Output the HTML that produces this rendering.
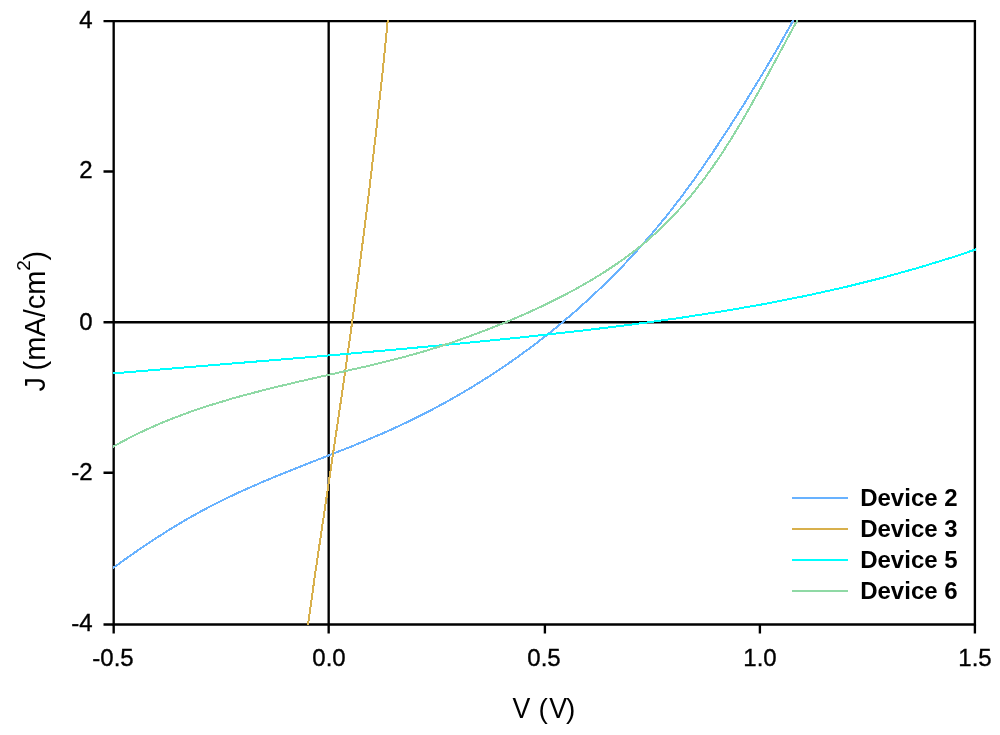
<!DOCTYPE html>
<html><head><meta charset="utf-8"><style>
html,body{margin:0;padding:0;background:#fff;width:1000px;height:735px;overflow:hidden}
svg{display:block;will-change:transform}
text{font-family:"Liberation Sans",sans-serif;fill:#000;stroke:#000;stroke-width:0}
.t{font-size:24px}
.t text{stroke-width:0.35px}
.ax{font-size:29px}
.lg{font-size:24px;font-weight:bold}
</style></head><body>
<svg width="1000" height="735" viewBox="0 0 1000 735">
<defs><clipPath id="c"><rect x="113" y="20" width="863" height="605"/></clipPath></defs>
<rect width="1000" height="735" fill="#fff"/>
<g stroke="#000" stroke-width="2.35" fill="none">
<path d="M113.68 21.05H974.9V624.5H113.68Z"/>
<path d="M328.67 21.05V633.5M113.68 322.2H974.9"/>
<path d="M103.5 21.05H113.68M103.5 171.5H113.68M103.5 322.2H113.68M103.5 472.7H113.68M103.5 624.5H113.68"/>
<path d="M113.68 624.5V633.5M544.9 624.5V633.5M759.9 624.5V633.5M974.9 624.5V633.5"/>
</g>
<g fill="none" stroke-width="2" clip-path="url(#c)" stroke-linejoin="round" shape-rendering="crispEdges">
<polyline points="92.74,583.27 109.16,570.87 124.53,559.68 140.13,548.78 154.63,539.10 169.34,529.74 184.27,520.75 199.41,512.16 213.38,504.74 237.54,492.97 265.05,480.85 291.43,470.07 353.25,445.77 383.84,432.90 399.67,425.70 415.35,418.16 430.87,410.27 446.20,402.03 461.33,393.44 474.92,385.32 488.32,376.90 502.85,367.31 515.86,358.28 529.94,348.04 543.78,337.46 557.37,326.56 574.29,312.24 590.78,297.41 606.82,282.10 622.40,266.33 637.51,250.10 652.13,233.44 666.25,216.35 680.82,197.59 695.77,177.14 711.09,154.99 727.67,129.84 745.48,101.72 762.84,73.35 778.08,47.43 792.02,22.61 805.42,-2.50" stroke="#68b2ff"/>
<polyline points="389.42,3.28 383.08,67.47 375.99,132.69 368.04,199.99 359.22,269.36 351.47,326.92 343.06,386.54 315.82,569.22 305.59,641.38" stroke="#d8b04c"/>
<polyline points="100.05,374.48 317.91,356.42 398.55,349.29 467.21,342.83 528.90,336.56 583.64,330.47 633.54,324.31 679.47,317.98 724.56,310.98 766.64,303.60 806.63,295.68 844.99,287.14 882.23,277.84 918.85,267.64 954.35,256.70 989.80,244.68" stroke="#00ffff"/>
<polyline points="91.61,459.83 104.54,451.67 117.67,444.09 130.99,437.03 144.48,430.47 158.14,424.37 173.33,418.15 188.69,412.41 205.62,406.62 234.15,397.94 267.35,389.13 299.36,381.49 369.37,365.67 402.66,357.38 419.87,352.58 436.97,347.37 453.94,341.78 472.20,335.30 491.71,327.88 511.07,320.01 528.88,312.28 545.14,304.73 561.20,296.76 577.02,288.32 591.28,280.14 605.28,271.51 620.17,261.52 633.41,251.81 646.17,241.52 657.31,231.63 669.04,220.20 680.22,208.24 691.81,194.66 702.83,180.58 712.46,167.30 722.52,152.45 732.96,136.02 743.00,119.30 759.26,90.58 793.91,26.43 808.85,-0.32" stroke="#8fd9a5"/>
</g>
<g class="t" text-anchor="end">
<text x="92.5" y="28">4</text>
<text x="92.5" y="178.4">2</text>
<text x="92.5" y="330">0</text>
<text x="92.5" y="480">-2</text>
<text x="92.5" y="631">-4</text>
</g>
<g class="t" text-anchor="middle">
<text x="113" y="666">-0.5</text>
<text x="329" y="666">0.0</text>
<text x="544" y="666">0.5</text>
<text x="760" y="666">1.0</text>
<text x="975" y="666">1.5</text>
</g>
<g class="ax"><text x="512.5" y="717.5" font-size="30" textLength="17.8" lengthAdjust="spacingAndGlyphs">V</text><text x="538.6" y="717.5" font-size="28">(</text><text x="549.3" y="717.5" font-size="30" textLength="17.8" lengthAdjust="spacingAndGlyphs">V</text><text x="566" y="717.5" font-size="28">)</text></g>
<g transform="translate(44.5,391.5) rotate(-90)" class="ax">
<text x="0" y="0">J</text>
<text x="21" y="0">(mA/cm<tspan dy="-15" font-size="19">2</tspan><tspan dx="-0.5" dy="15">)</tspan></text>
</g>
<g stroke-width="2" shape-rendering="crispEdges">
<line x1="792" y1="498" x2="848" y2="498" stroke="#68b2ff"/>
<line x1="792" y1="529" x2="848" y2="529" stroke="#d8b04c"/>
<line x1="792" y1="560" x2="848" y2="560" stroke="#00ffff"/>
<line x1="792" y1="591" x2="848" y2="591" stroke="#8fd9a5"/>
</g>
<g class="lg">
<text x="860.2" y="506">Device 2</text>
<text x="860.2" y="537">Device 3</text>
<text x="860.2" y="568">Device 5</text>
<text x="860.2" y="599">Device 6</text>
</g>
</svg>
</body></html>
